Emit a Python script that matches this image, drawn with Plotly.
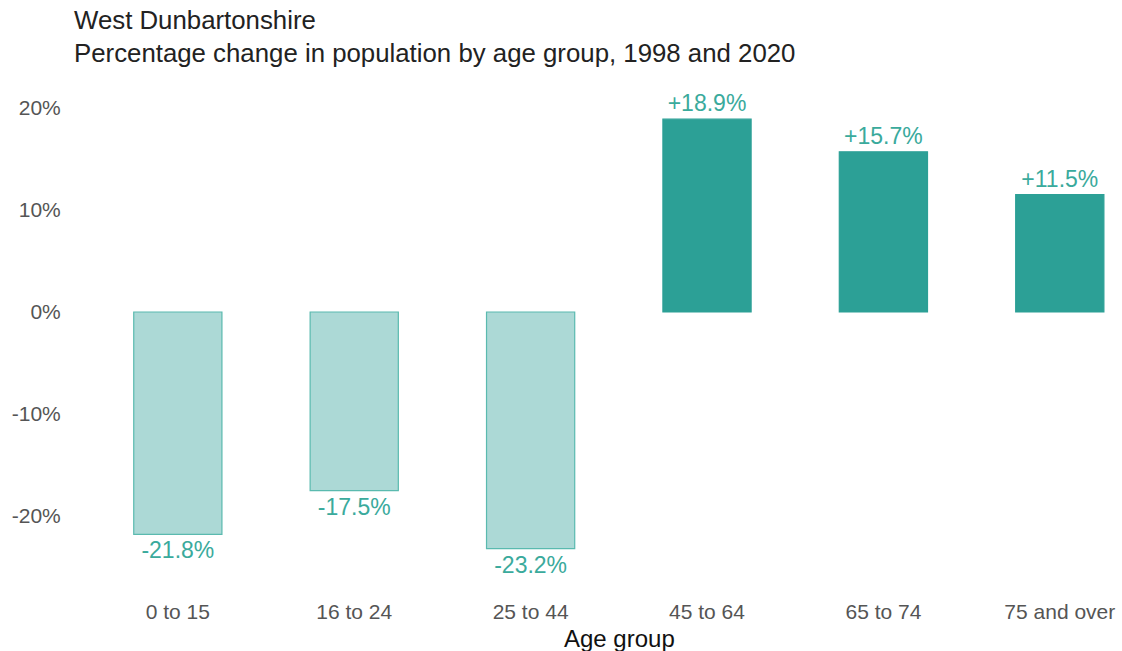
import plotly.graph_objects as go

categories = ["0 to 15", "16 to 24", "25 to 44", "45 to 64", "65 to 74", "75 and over"]
values = [-21.8, -17.5, -23.2, 18.9, 15.7, 11.5]
tick_vals = [-20, -10, 0, 10, 20]
tick_text = ["-20%", "-10%", "0%", "10%", "20%"]

dark = "rgb(44,160,150)"
light = "rgb(172,217,214)"
light_line = "rgb(90,186,175)"
label_col = "rgb(58,170,156)"

fills = [dark if v > 0 else light for v in values]
lines = [dark if v > 0 else light_line for v in values]
labels = [("+" if v > 0 else "") + f"{v:.1f}%" for v in values]

FONT = "Liberation Sans, Arial, sans-serif"
fig = go.Figure(go.Bar(
    x=categories, y=values, width=0.5,
    marker=dict(color=fills, line=dict(color=lines, width=1.2)),
    text=labels, textposition="outside", cliponaxis=False,
    textfont=dict(color=label_col, size=23, family=FONT),
))

W, H = 1122, 651
ml, mr, mt, mb = 72, 4, 90, 66
pw, ph = W - ml - mr, H - mt - mb


def px(xp):
    return (xp - ml) / pw


def py(yp):
    return (H - mb - yp) / ph


fig.update_layout(
    width=W, height=H,
    margin=dict(l=ml, r=mr, t=mt, b=mb),
    plot_bgcolor="white", paper_bgcolor="white",
    font=dict(family=FONT, color="#222"),
    showlegend=False,
    xaxis=dict(range=[-0.6, 5.33], showgrid=False, zeroline=False, showline=False,
               ticks="outside", ticklen=8, tickcolor="rgba(0,0,0,0)",
               tickfont=dict(size=21, color="#555")),
    yaxis=dict(range=[-26.76, 21.76], tickvals=tick_vals, ticktext=tick_text,
               showgrid=False, zeroline=False, showline=False,
               ticks="outside", ticklen=6, tickcolor="rgba(0,0,0,0)",
               tickfont=dict(size=21, color="#555")),
)
fig.add_annotation(text="West Dunbartonshire", x=px(72), y=py(20), xref="paper", yref="paper",
                   xanchor="left", yanchor="middle", showarrow=False,
                   font=dict(size=25.8, color="#222"))
fig.add_annotation(text="Percentage change in population by age group, 1998 and 2020",
                   x=px(72), y=py(53), xref="paper", yref="paper",
                   xanchor="left", yanchor="middle", showarrow=False,
                   font=dict(size=25.8, color="#222"))
fig.add_annotation(text="Age group", x=px(619), y=py(638), xref="paper", yref="paper",
                   xanchor="center", yanchor="middle", showarrow=False,
                   font=dict(size=24, color="#111"))
fig.write_html("out.html", config={"displayModeBar": False},
               post_script="document.body.style.margin='0';")
